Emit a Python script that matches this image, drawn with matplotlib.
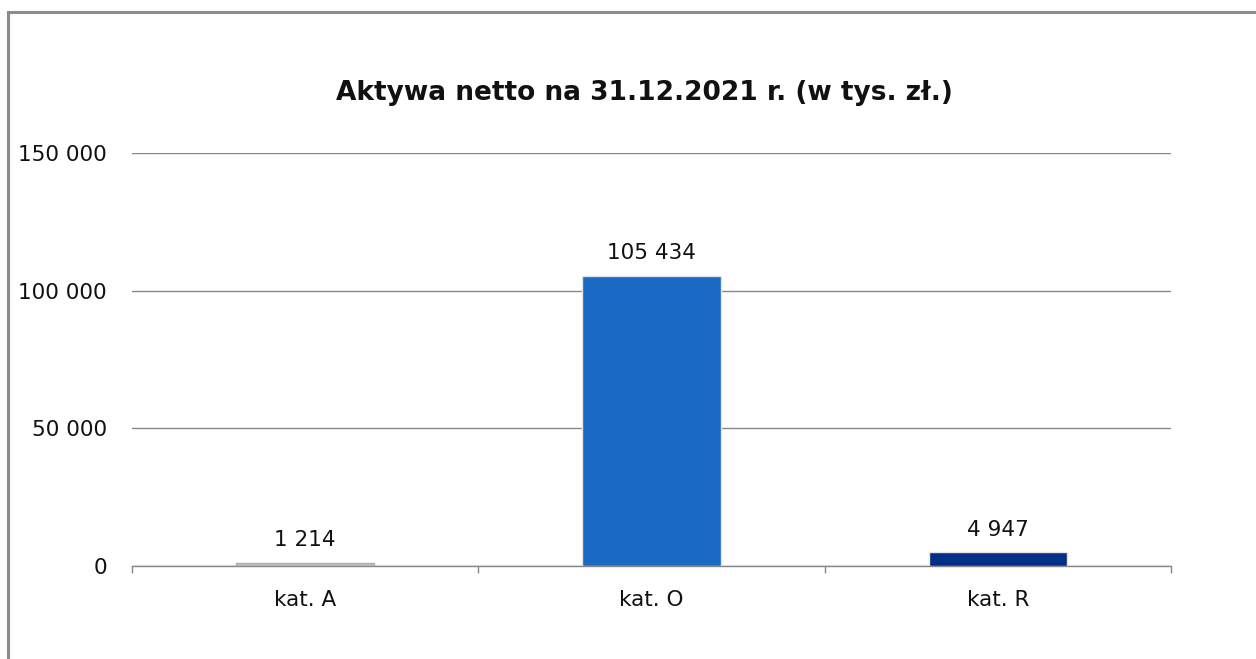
import matplotlib.pyplot as plt
from matplotlib.lines import Line2D
from matplotlib.ticker import FuncFormatter, FixedLocator

# dane
kategorie = ["kat. A", "kat. O", "kat. R"]
wartosci = [1214, 105434, 4947]
kolory = ["#bcbcbc", "#1a69c4", "#003087"]
obwodki = ["#b0b0b0", "#e4e4e4", "#e4e4e4"]
tytul = "Aktywa netto na 31.12.2021 r. (w tys. zł.)"
y_ticks = [0, 50000, 100000, 150000]


def fmt(v, pos=None):
    # separator tysięcy jako spacja
    return f"{int(v):,}".replace(",", " ")


plt.rcParams['font.family'] = ['DejaVu Sans']

fig = plt.figure(figsize=(12.56, 6.59), dpi=100)
ax = fig.add_axes([0.1051, 0.1411, 0.8272, 0.6267])

x = list(range(len(kategorie)))
ax.bar(x, wartosci, width=0.4, color=kolory, edgecolor=obwodki,
       linewidth=1.0, zorder=3)

for xi, v in zip(x, wartosci):
    ax.annotate(fmt(v), (xi, v), xytext=(0, 9), textcoords="offset points",
                ha="center", va="bottom", fontsize=15.5, color="#111111")

ax.set_xlim(-0.5, 2.5)
ax.set_ylim(0, 150000)
ax.set_yticks(y_ticks)
ax.yaxis.set_major_formatter(FuncFormatter(fmt))
ax.grid(axis="y", color="#888888", linewidth=1.0, zorder=0)
ax.set_axisbelow(True)

ax.set_xticks(x)
ax.set_xticklabels(kategorie)
ax.xaxis.set_minor_locator(FixedLocator([-0.5, 0.5, 1.5, 2.5]))
ax.tick_params(axis="x", which="major", length=0, pad=17, labelsize=15.5,
               colors="#111111")
ax.tick_params(axis="x", which="minor", length=5, width=1.0, color="#888888")
ax.tick_params(axis="y", length=0, pad=18, labelsize=15.5, colors="#111111")

for s in ["top", "right", "left"]:
    ax.spines[s].set_visible(False)
ax.spines["bottom"].set_color("#888888")
ax.spines["bottom"].set_linewidth(1.0)

fig.text(644 / 1256, 1 - 93 / 659, tytul, ha="center", va="center",
         fontsize=19, fontweight="bold", color="#111111")

# ramka (lewa i górna krawędź)
x0, y0 = 8 / 1256, 1 - 12 / 659
fig.add_artist(Line2D([x0, x0], [0, y0], color="#8c8c8c", linewidth=2.2))
fig.add_artist(Line2D([x0, 1], [y0, y0], color="#8c8c8c", linewidth=2.2))

fig.savefig("out.png", dpi=100)
